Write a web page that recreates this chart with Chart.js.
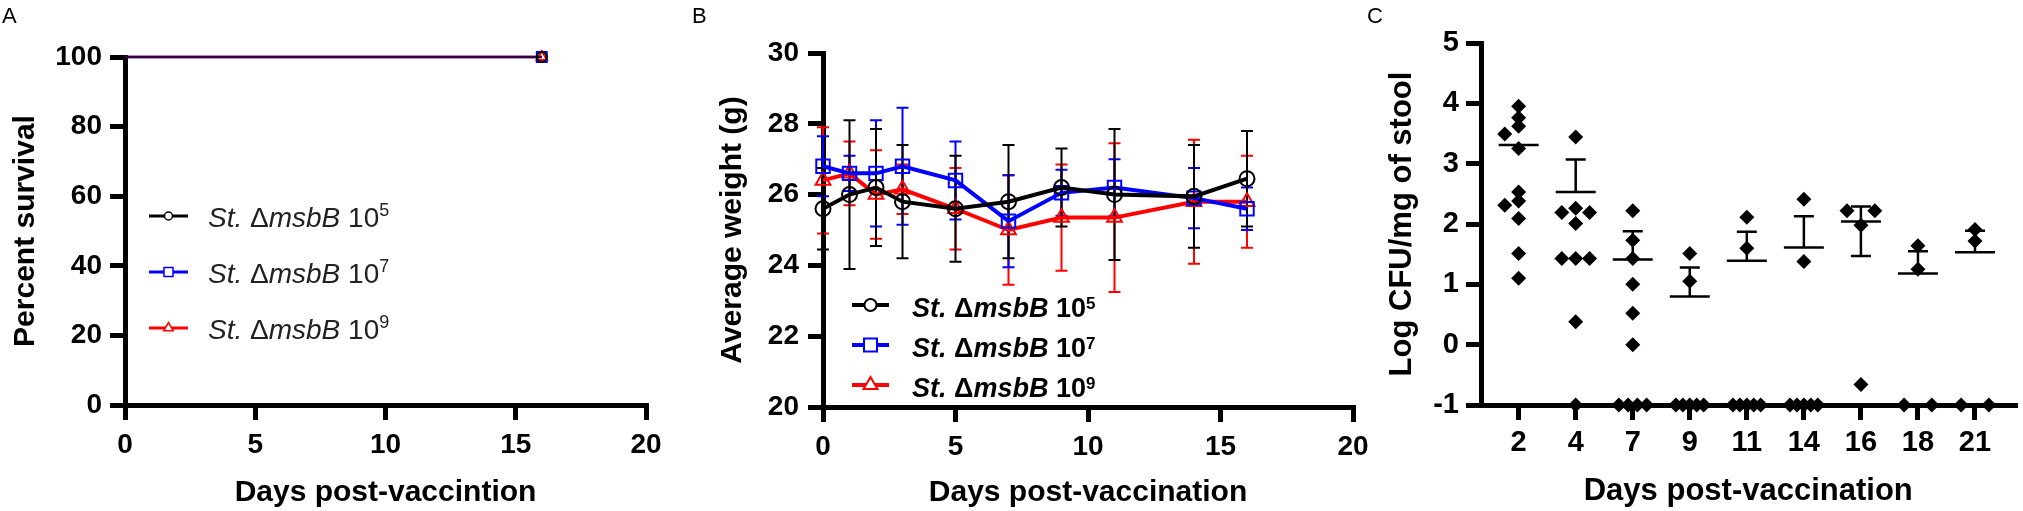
<!DOCTYPE html>
<html lang="en">

<head>
    <meta charset="UTF-8" />
    <title>St. ΔmsbB vaccination</title>
    <script src="https://cdn.jsdelivr.net/npm/chart.js"></script>
    <style>
        body {
            margin: 0;
            background: #fff;
            width: 2023px;
            height: 511px;
            position: relative;
            overflow: hidden;
            font-family: "Liberation Sans", Arial, sans-serif;
        }

        canvas {
            position: absolute;
            top: 0;
        }

        #chartA { left: 0; }
        #chartB { left: 680px; }
        #chartC { left: 1380px; }

        .panel-tag {
            position: absolute;
            top: 5px;
            font-size: 22px;
            line-height: 22px;
            color: #000;
        }
    </style>
</head>

<body>
    <canvas id="chartA" width="680" height="511"></canvas>
    <canvas id="chartB" width="720" height="511"></canvas>
    <canvas id="chartC" width="643" height="511"></canvas>
    <div class="panel-tag" style="left:2px">A</div>
    <div class="panel-tag" style="left:692px">B</div>
    <div class="panel-tag" style="left:1367px">C</div>

    <script>
        const FONT = '"Liberation Sans", Arial, sans-serif';

        // dose groups (10^5, 10^7, 10^9)
        const doses = ['5', '7', '9'];
        const groupColors = ['#000000', '#0000ff', '#ff0000'];

        // A - survival
        const survDays = [0, 16];
        const surv5 = [100, 100];
        const surv7 = [100, 100];
        const surv9 = [100, 100];

        // B - average weight (g), mean and SD
        const weightDays = [0, 1, 2, 3, 5, 7, 9, 11, 14, 16];
        const weight5 = [25.6, 26.0, 26.2, 25.8, 25.6, 25.8, 26.2, 26.0, 25.95, 26.45];
        const sd5 = [1.15, 2.1, 1.65, 1.6, 1.5, 1.6, 1.1, 1.85, 1.45, 1.35];
        const weight7 = [26.8, 26.6, 26.6, 26.8, 26.4, 25.25, 26.05, 26.2, 25.9, 25.6];
        const sd7 = [0.85, 0.5, 1.5, 1.65, 1.1, 1.3, 0.65, 0.8, 0.85, 0.6];
        const weight9 = [26.4, 26.6, 26.0, 26.15, 25.6, 25.0, 25.35, 25.35, 25.8, 25.8];
        const sd9 = [1.5, 0.9, 1.25, 0.7, 1.15, 1.55, 1.5, 2.1, 1.75, 1.3];

        // C - log CFU/mg of stool, one array per day
        const stoolDays = ['2', '4', '7', '9', '11', '14', '16', '18', '21'];
        const stoolDay2 = [3.95, 3.76, 3.62, 3.49, 3.25, 2.53, 2.38, 2.31, 2.09, 1.51, 1.10];
        const stoolDay4 = [3.44, 2.26, 2.19, 2.19, 2.01, 1.43, 1.43, 1.43, 0.38, -1];
        const stoolDay7 = [2.22, 1.73, 1.43, 1.00, 0.52, 0.00, -1, -1, -1, -1];
        const stoolDay9 = [1.51, 1.05, -1, -1, -1, -1, -1];
        const stoolDay11 = [2.11, 1.60, -1, -1, -1, -1, -1];
        const stoolDay14 = [2.41, 1.38, -1, -1, -1, -1, -1];
        const stoolDay16 = [2.22, 2.22, 1.98, -0.66];
        const stoolDay18 = [1.64, 1.25, -1, -1];
        const stoolDay21 = [1.91, 1.72, -1, -1];
        const stoolPoints = [stoolDay2, stoolDay4, stoolDay7, stoolDay9, stoolDay11,
            stoolDay14, stoolDay16, stoolDay18, stoolDay21];
        const stoolMean = [3.31, 2.53, 1.41, 0.80, 1.39, 1.61, 2.04, 1.18, 1.53];
        const stoolUpper = [3.31, 3.07, 1.88, 1.28, 1.87, 2.13, 2.29, 1.55, 1.89];
        const stoolLower = [3.31, 2.53, 1.41, 0.80, 1.39, 1.61, 1.47, 1.18, 1.53];

        function axis(o) {
            return {
                type: 'linear',
                min: o.min,
                max: o.max,
                ticks: {
                    stepSize: o.step,
                    color: '#000',
                    padding: o.tickPad,
                    font: { family: FONT, size: o.tickSize, weight: 'bold' }
                },
                grid: {
                    drawOnChartArea: false,
                    drawTicks: true,
                    tickLength: 15,
                    lineWidth: 5,
                    tickWidth: 5,
                    tickColor: '#000'
                },
                border: { display: true, color: '#000', width: 5 },
                title: {
                    display: true,
                    text: o.title,
                    color: '#000',
                    font: { family: FONT, size: o.titleSize, weight: 'bold' },
                    padding: o.titlePad
                },
                afterFit: o.fit
            };
        }

        function drawMarker(ctx, style, x, y, r) {
            ctx.beginPath();
            if (style === 'circle') {
                ctx.arc(x, y, r, 0, Math.PI * 2);
            } else if (style === 'rect') {
                ctx.rect(x - r, y - r, r * 2, r * 2);
            } else {
                ctx.moveTo(x, y - r);
                ctx.lineTo(x + r * 0.866, y + r * 0.5);
                ctx.lineTo(x - r * 0.866, y + r * 0.5);
                ctx.closePath();
            }
            ctx.fill();
            ctx.stroke();
        }

        // legend with italic gene name and superscript dose
        function richLegend(cfg) {
            return {
                id: 'richLegend',
                afterDraw(chart) {
                    const { ctx, chartArea } = chart;
                    ctx.save();
                    doses.forEach((dose, k) => {
                        const y = chartArea.top + cfg.top + k * cfg.gap;
                        const x0 = chartArea.left + cfg.left;
                        ctx.strokeStyle = groupColors[k];
                        ctx.lineWidth = cfg.lineWidth;
                        ctx.beginPath();
                        ctx.moveTo(x0, y);
                        ctx.lineTo(x0 + cfg.lineLen, y);
                        ctx.stroke();
                        ctx.fillStyle = '#fff';
                        ctx.lineWidth = cfg.markerWidth;
                        drawMarker(ctx, ['circle', 'rect', 'triangle'][k], x0 + cfg.lineLen / 2, y, cfg.markers[k]);

                        const parts = [
                            { t: 'St.', it: true },
                            { t: ' Δ', it: false },
                            { t: 'msbB', it: true },
                            { t: ' 10', it: false },
                            { t: dose, sup: true }
                        ];
                        let x = chartArea.left + cfg.textLeft;
                        const base = y + cfg.baseShift;
                        ctx.fillStyle = cfg.textColor;
                        ctx.textBaseline = 'alphabetic';
                        ctx.textAlign = 'left';
                        parts.forEach(p => {
                            const size = p.sup ? cfg.supSize : cfg.size;
                            ctx.font = (p.it ? 'italic ' : '') + cfg.weight + ' ' + size + 'px ' + FONT;
                            ctx.fillText(p.t, x, p.sup ? base - cfg.supRaise : base);
                            x += ctx.measureText(p.t).width;
                        });
                    });
                    ctx.restore();
                }
            };
        }

        // ---------- A ----------
        const survival = [surv5, surv7, surv9];
        const lineA = ['rgba(0,0,0,0.55)', 'rgba(0,0,255,0.6)', '#ff0000'];
        const stylesA = ['circle', 'rect', 'triangle'];
        const radiiA = [5, 7, 6];

        new Chart(document.getElementById('chartA'), {
            type: 'line',
            data: {
                datasets: doses.map((d, k) => ({
                    label: 'St. ΔmsbB 10^' + d,
                    data: survDays.map((x, i) => ({ x: x, y: survival[k][i] })),
                    borderColor: lineA[k],
                    borderWidth: 2.5,
                    stepped: true,
                    clip: false,
                    pointStyle: stylesA[k],
                    pointRadius: ctx => ctx.dataIndex === survDays.length - 1 ? radiiA[k] : 0,
                    pointBorderColor: groupColors[k],
                    pointBackgroundColor: 'rgba(255,255,255,0)',
                    pointBorderWidth: 2
                }))
            },
            options: {
                responsive: false,
                animation: false,
                layout: { padding: { left: 0, top: 57, right: 34, bottom: 0 } },
                plugins: { legend: { display: false }, tooltip: { enabled: false } },
                scales: {
                    x: axis({
                        min: 0, max: 20, step: 5, tickSize: 28, tickPad: 8,
                        title: 'Days post-vaccintion', titleSize: 30,
                        titlePad: { top: 0, bottom: 0 },
                        fit: s => { s.height = 106; }
                    }),
                    y: axis({
                        min: 0, max: 100, step: 20, tickSize: 28, tickPad: 8,
                        title: 'Percent survival', titleSize: 30,
                        titlePad: { top: 8, bottom: 0 },
                        fit: s => { s.width = 125; }
                    })
                }
            },
            plugins: [richLegend({
                top: 159, gap: 56, left: 24, lineLen: 39, lineWidth: 3,
                markerWidth: 1.5, markers: [4, 4.5, 5.5],
                textLeft: 83, size: 28, weight: 'normal', baseShift: 11,
                supSize: 18, supRaise: 11, textColor: '#222'
            })]
        });

        // ---------- B ----------
        const weights = [weight5, weight7, weight9];
        const sds = [sd5, sd7, sd9];
        const stylesB = ['circle', 'rect', 'triangle'];
        const radiiB = [7.5, 9.5, 8.5];

        const errorBarsB = {
            id: 'errorBarsB',
            beforeDatasetsDraw(chart) {
                const { ctx, scales: { x, y } } = chart;
                ctx.save();
                ctx.lineWidth = 2;
                for (let k = weights.length - 1; k >= 0; k--) {
                    ctx.strokeStyle = groupColors[k];
                    weightDays.forEach((d, i) => {
                        const px = x.getPixelForValue(d);
                        const top = y.getPixelForValue(weights[k][i] + sds[k][i]);
                        const bot = y.getPixelForValue(weights[k][i] - sds[k][i]);
                        ctx.beginPath();
                        ctx.moveTo(px, top);
                        ctx.lineTo(px, bot);
                        ctx.moveTo(px - 6, top);
                        ctx.lineTo(px + 6, top);
                        ctx.moveTo(px - 6, bot);
                        ctx.lineTo(px + 6, bot);
                        ctx.stroke();
                    });
                }
                ctx.restore();
            }
        };

        new Chart(document.getElementById('chartB'), {
            type: 'line',
            data: {
                datasets: doses.map((d, k) => ({
                    label: 'St. ΔmsbB 10^' + d,
                    data: weightDays.map((x, i) => ({ x: x, y: weights[k][i] })),
                    borderColor: groupColors[k],
                    borderWidth: 4,
                    clip: false,
                    pointStyle: stylesB[k],
                    pointRadius: radiiB[k],
                    pointBorderColor: groupColors[k],
                    pointBackgroundColor: 'rgba(255,255,255,0)',
                    pointBorderWidth: 2
                }))
            },
            options: {
                responsive: false,
                animation: false,
                layout: { padding: { left: 0, top: 53, right: 47, bottom: 0 } },
                plugins: { legend: { display: false }, tooltip: { enabled: false } },
                scales: {
                    x: axis({
                        min: 0, max: 20, step: 5, tickSize: 28, tickPad: 8,
                        title: 'Days post-vaccination', titleSize: 30,
                        titlePad: { top: 0, bottom: 0.5 },
                        fit: s => { s.height = 104; }
                    }),
                    y: axis({
                        min: 20, max: 30, step: 2, tickSize: 28, tickPad: 9,
                        title: 'Average weight (g)', titleSize: 30,
                        titlePad: { top: 35, bottom: 0 },
                        fit: s => { s.width = 143; }
                    })
                }
            },
            plugins: [errorBarsB, richLegend({
                top: 252, gap: 40, left: 29, lineLen: 37, lineWidth: 4,
                markerWidth: 2, markers: [6, 6.5, 8],
                textLeft: 89, size: 27, weight: 'bold', baseShift: 12,
                supSize: 17, supRaise: 8, textColor: '#000'
            })]
        });

        // ---------- C ----------
        // spread points of one day sideways so they do not sit on top of each other
        function swarm(vals, unitX, unitY) {
            const step = 14, rowWidth = 28, minDist = 8;
            const off = vals.map(() => null);
            vals.forEach((v, k) => {
                if (off[k] !== null) return;
                const same = vals.map((w, j) => (w === v ? j : -1)).filter(j => j >= 0);
                if (same.length > 1) {
                    same.forEach((j, n) => { off[j] = -rowWidth / 2 + rowWidth * n / (same.length - 1); });
                }
            });
            vals.forEach((v, k) => {
                if (off[k] !== null) return;
                const clash = dx => vals.some((w, j) => j !== k && off[j] !== null &&
                    Math.hypot(off[j] - dx, (w - v) * unitY) < minDist);
                const pick = [0, -step, step].find(dx => !clash(dx));
                off[k] = pick === undefined ? 0 : pick;
            });
            return off.map(dx => dx / unitX);
        }

        const meanBarsC = {
            id: 'meanBarsC',
            afterDatasetsDraw(chart) {
                const { ctx, scales: { x, y } } = chart;
                ctx.save();
                ctx.strokeStyle = '#000';
                ctx.lineWidth = 2.5;
                stoolMean.forEach((m, i) => {
                    const px = x.getPixelForValue(i);
                    const pm = y.getPixelForValue(m);
                    ctx.beginPath();
                    ctx.moveTo(px - 20, pm);
                    ctx.lineTo(px + 20, pm);
                    [stoolUpper[i], stoolLower[i]].forEach(v => {
                        if (v === m) return;
                        const pv = y.getPixelForValue(v);
                        ctx.moveTo(px, pm);
                        ctx.lineTo(px, pv);
                        ctx.moveTo(px - 10, pv);
                        ctx.lineTo(px + 10, pv);
                    });
                    ctx.stroke();
                });
                ctx.restore();
            }
        };

        const xC = axis({
            min: -0.66, max: 8.71, step: 1, tickSize: 29, tickPad: 6,
            title: 'Days post-vaccination', titleSize: 31,
            titlePad: { top: 0, bottom: 1.4 },
            fit: s => { s.height = 106; }
        });
        xC.afterBuildTicks = s => { s.ticks = stoolDays.map((d, i) => ({ value: i })); };
        xC.ticks.callback = v => stoolDays[Math.round(v)];

        const chartC = new Chart(document.getElementById('chartC'), {
            type: 'scatter',
            data: {
                datasets: [{
                    label: 'Log CFU/mg of stool',
                    data: [],
                    clip: false,
                    pointStyle: 'rectRot',
                    pointRadius: 7.5,
                    pointBackgroundColor: '#000',
                    pointBorderColor: '#000',
                    pointBorderWidth: 0
                }]
            },
            options: {
                responsive: false,
                animation: false,
                layout: { padding: { left: 0, top: 43, right: 3, bottom: 0 } },
                plugins: { legend: { display: false }, tooltip: { enabled: false } },
                scales: {
                    x: xC,
                    y: axis({
                        min: -1, max: 5, step: 1, tickSize: 29, tickPad: 7,
                        title: 'Log CFU/mg of stool', titleSize: 31,
                        titlePad: { top: 3.4, bottom: 0 },
                        fit: s => { s.width = 101; }
                    })
                }
            },
            plugins: [meanBarsC]
        });

        const sx = chartC.scales.x, sy = chartC.scales.y;
        const unitX = sx.getPixelForValue(1) - sx.getPixelForValue(0);
        const unitY = sy.getPixelForValue(0) - sy.getPixelForValue(1);
        chartC.data.datasets[0].data = stoolPoints.flatMap((vals, i) => {
            const dx = swarm(vals, unitX, unitY);
            return vals.map((v, k) => ({ x: i + dx[k], y: v }));
        });
        chartC.update('none');
    </script>
</body>

</html>
